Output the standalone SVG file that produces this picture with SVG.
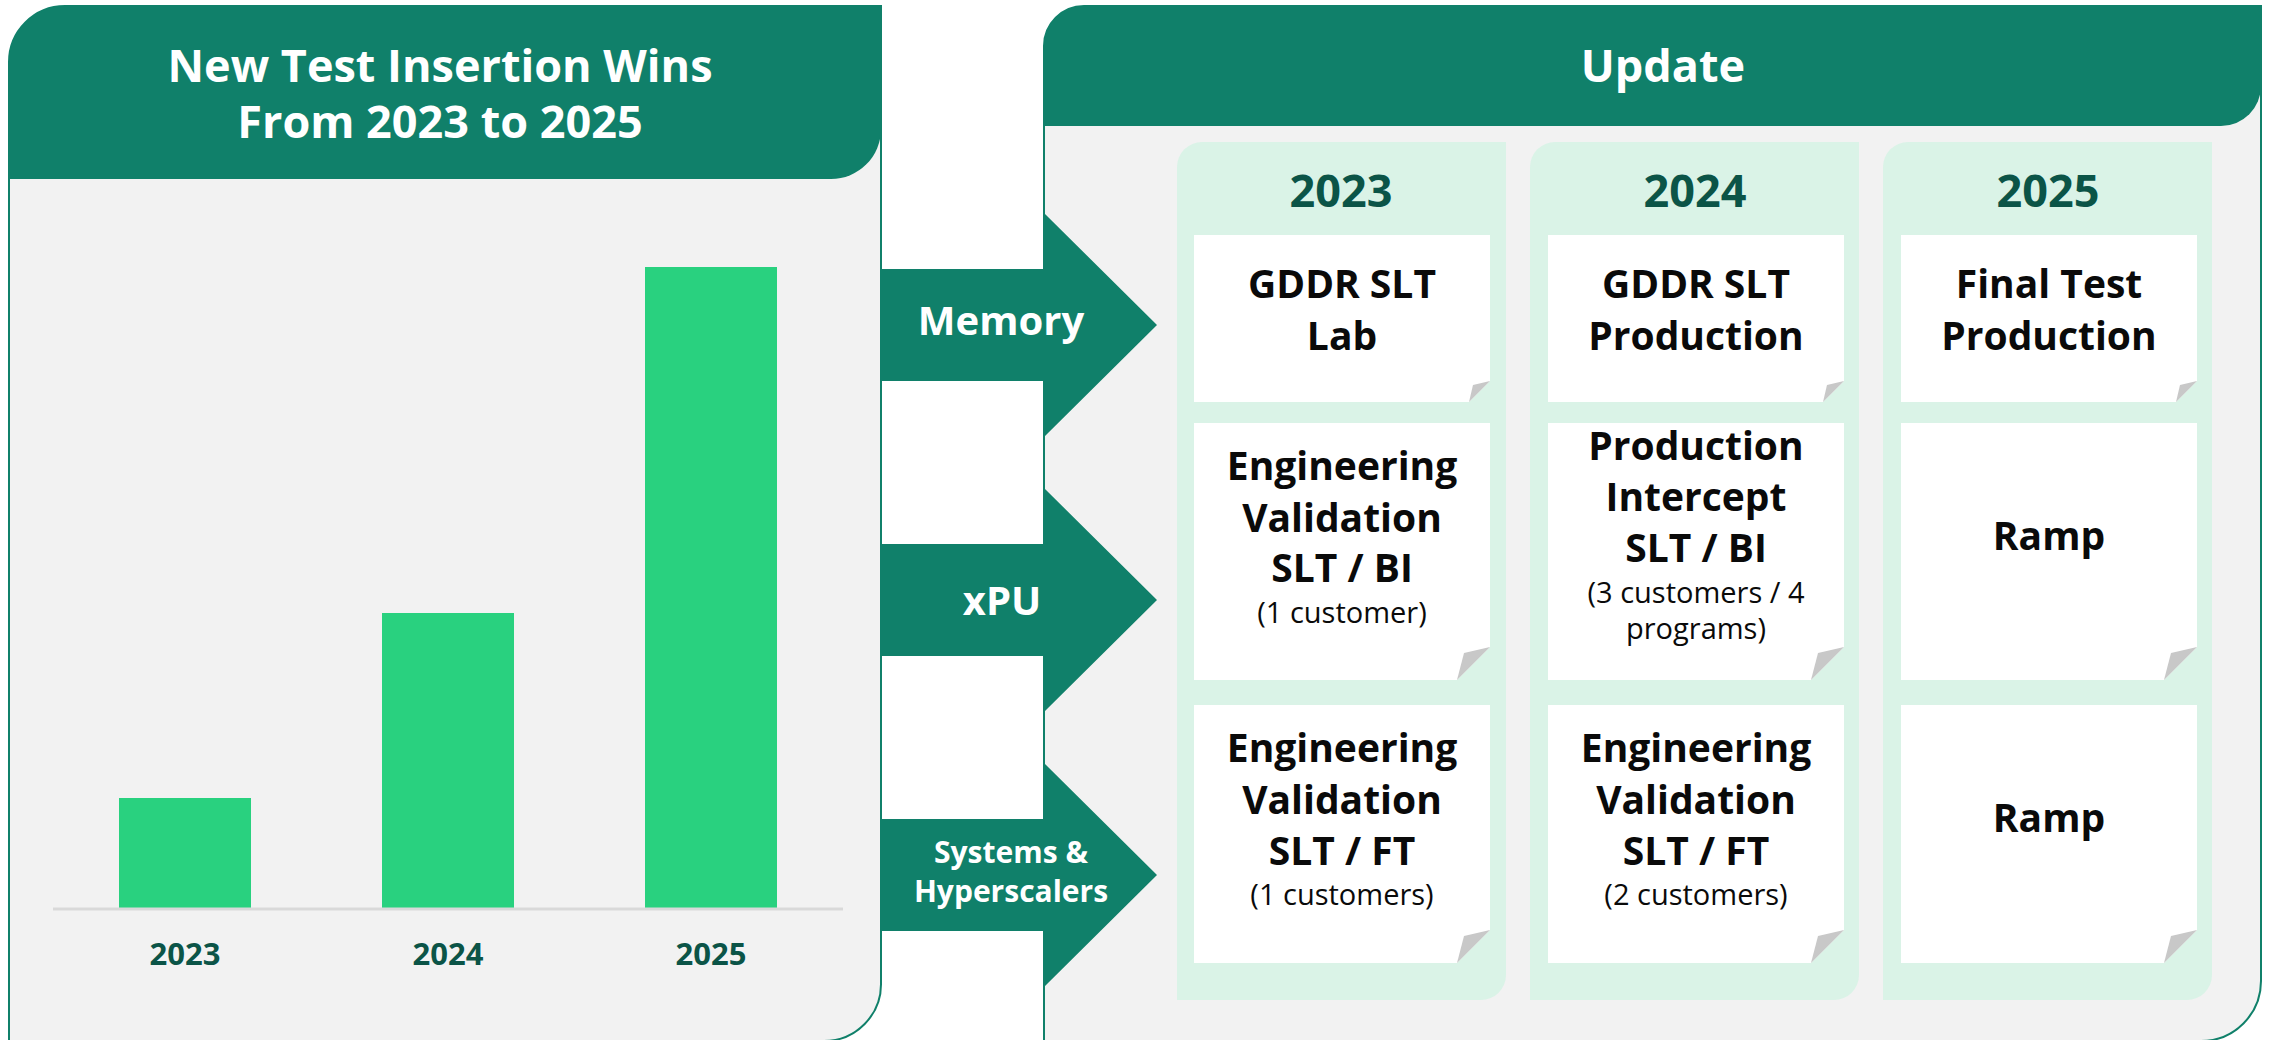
<svg xmlns="http://www.w3.org/2000/svg" width="2274" height="1040" viewBox="0 0 2274 1040">
  <defs>
    <style>
      .panel { fill: #F2F2F2; stroke: #10806A; stroke-width: 2; }
      .hdr { fill: #10806A; }
      .col { fill: #DAF3E7; }
      .card { fill: #FFFFFF; }
      .fold { fill: #C8C8C8; }
      .bar { fill: #29D17F; }
      .arrow { fill: #10806A; }
      .t { font-family: "Open Sans", "Noto Sans", "Liberation Sans", sans-serif; text-anchor: middle; }
      .title { font-weight: 700; font-size: 45px; fill: #FFFFFF; }
      .year { font-weight: 700; font-size: 45px; fill: #0B5447; }
      .axis { font-weight: 700; font-size: 31px; fill: #0B5447; }
      .alab { font-weight: 700; font-size: 40px; fill: #FFFFFF; }
      .alab-s { font-weight: 700; font-size: 30px; fill: #FFFFFF; }
      .ct { font-weight: 700; font-size: 39px; fill: #0A0A0A; }
      .cs { font-weight: 400; font-size: 29px; fill: #0A0A0A; }
    </style>
  </defs>

  <rect x="0" y="0" width="2274" height="1040" fill="#FFFFFF"/>

  <!-- Left panel: new test insertion wins chart -->
  <g id="wins-panel">
    <path class="panel" d="M9,1041 V62 A56,56 0 0 1 65,6 H881 V983 A57,57 0 0 1 824,1041 Z"/>
    <path class="hdr" d="M9,179 V62 A56,56 0 0 1 65,6 H881 V129 A50,50 0 0 1 831,179 Z"/>
    <text class="t title" x="440" y="82">New Test Insertion Wins</text>
    <text class="t title" x="440" y="138">From 2023 to 2025</text>
  </g>

  <g id="wins-chart">
    <rect class="bar" x="119" y="798" width="132" height="110"/>
    <rect class="bar" x="382" y="613" width="132" height="295"/>
    <rect class="bar" x="645" y="267" width="132" height="641"/>
    <line x1="53" y1="909" x2="843" y2="909" stroke="#D9D9D9" stroke-width="3"/>
    <text class="t axis" x="185" y="965">2023</text>
    <text class="t axis" x="448" y="965">2024</text>
    <text class="t axis" x="711" y="965">2025</text>
  </g>

  <!-- Right panel: update -->
  <g id="update-panel">
    <path class="panel" d="M1044,1041 V46 A40,40 0 0 1 1084,6 H2261 V981 A60,60 0 0 1 2201,1041 Z"/>
    <path class="hdr" d="M1044,126 V46 A40,40 0 0 1 1084,6 H2261 V86 A40,40 0 0 1 2221,126 Z"/>
    <text class="t title" x="1663" y="82">Update</text>
  </g>

  <!-- Segment arrows -->
  <g id="connectors">
    <g id="arrow-memory">
      <polygon class="arrow" points="881,269 1045,269 1045,214 1157,325 1045,436 1045,381 881,381"/>
      <text class="t alab" x="1001" y="335">Memory</text>
    </g>
    <g id="arrow-xpu">
      <polygon class="arrow" points="881,544 1045,544 1045,489 1157,600 1045,711 1045,656 881,656"/>
      <text class="t alab" x="1002" y="615">xPU</text>
    </g>
    <g id="arrow-systems">
      <polygon class="arrow" points="881,819 1045,819 1045,764 1157,875 1045,986 1045,931 881,931"/>
      <text class="t alab-s" x="1011" y="863">Systems &amp;</text>
      <text class="t alab-s" x="1011" y="902">Hyperscalers</text>
    </g>
  </g>

  <!-- Year columns -->
  <g id="col-2023">
    <path class="col" d="M1177,1000 V167 A25,25 0 0 1 1202,142 H1506 V975 A25,25 0 0 1 1481,1000 Z"/>
    <text class="t year" x="1341" y="207">2023</text>
  </g>
  <g id="col-2024">
    <path class="col" d="M1530,1000 V167 A25,25 0 0 1 1555,142 H1859 V975 A25,25 0 0 1 1834,1000 Z"/>
    <text class="t year" x="1695" y="207">2024</text>
  </g>
  <g id="col-2025">
    <path class="col" d="M1883,1000 V167 A25,25 0 0 1 1908,142 H2212 V975 A25,25 0 0 1 2187,1000 Z"/>
    <text class="t year" x="2048" y="207">2025</text>
  </g>

  <!-- Cards: 2023 -->
  <g id="card-2023-memory">
    <polygon class="card" points="1194,235 1490,235 1490,381 1469,402 1194,402"/>
    <polygon class="fold" points="1490,381 1469,402 1473,385"/>
    <text class="t ct" x="1342" y="298">GDDR SLT</text>
    <text class="t ct" x="1342" y="350">Lab</text>
  </g>
  <g id="card-2023-xpu">
    <polygon class="card" points="1194,423 1490,423 1490,647 1457,680 1194,680"/>
    <polygon class="fold" points="1490,647 1457,680 1464,653"/>
    <text class="t ct" x="1342" y="480">Engineering</text>
    <text class="t ct" x="1342" y="532">Validation</text>
    <text class="t ct" x="1342" y="582">SLT / BI</text>
    <text class="t cs" x="1342" y="623">(1 customer)</text>
  </g>
  <g id="card-2023-systems">
    <polygon class="card" points="1194,705 1490,705 1490,930 1457,963 1194,963"/>
    <polygon class="fold" points="1490,930 1457,963 1464,936"/>
    <text class="t ct" x="1342" y="762">Engineering</text>
    <text class="t ct" x="1342" y="814">Validation</text>
    <text class="t ct" x="1342" y="865">SLT / FT</text>
    <text class="t cs" x="1342" y="905">(1 customers)</text>
  </g>

  <!-- Cards: 2024 -->
  <g id="card-2024-memory">
    <polygon class="card" points="1548,235 1844,235 1844,381 1823,402 1548,402"/>
    <polygon class="fold" points="1844,381 1823,402 1827,385"/>
    <text class="t ct" x="1696" y="298">GDDR SLT</text>
    <text class="t ct" x="1696" y="350">Production</text>
  </g>
  <g id="card-2024-xpu">
    <polygon class="card" points="1548,423 1844,423 1844,647 1811,680 1548,680"/>
    <polygon class="fold" points="1844,647 1811,680 1818,653"/>
    <text class="t ct" x="1696" y="460">Production</text>
    <text class="t ct" x="1696" y="511">Intercept</text>
    <text class="t ct" x="1696" y="562">SLT / BI</text>
    <text class="t cs" x="1696" y="603">(3 customers / 4</text>
    <text class="t cs" x="1696" y="639">programs)</text>
  </g>
  <g id="card-2024-systems">
    <polygon class="card" points="1548,705 1844,705 1844,930 1811,963 1548,963"/>
    <polygon class="fold" points="1844,930 1811,963 1818,936"/>
    <text class="t ct" x="1696" y="762">Engineering</text>
    <text class="t ct" x="1696" y="814">Validation</text>
    <text class="t ct" x="1696" y="865">SLT / FT</text>
    <text class="t cs" x="1696" y="905">(2 customers)</text>
  </g>

  <!-- Cards: 2025 -->
  <g id="card-2025-memory">
    <polygon class="card" points="1901,235 2197,235 2197,381 2176,402 1901,402"/>
    <polygon class="fold" points="2197,381 2176,402 2180,385"/>
    <text class="t ct" x="2049" y="298">Final Test</text>
    <text class="t ct" x="2049" y="350">Production</text>
  </g>
  <g id="card-2025-xpu">
    <polygon class="card" points="1901,423 2197,423 2197,647 2164,680 1901,680"/>
    <polygon class="fold" points="2197,647 2164,680 2171,653"/>
    <text class="t ct" x="2049" y="550">Ramp</text>
  </g>
  <g id="card-2025-systems">
    <polygon class="card" points="1901,705 2197,705 2197,930 2164,963 1901,963"/>
    <polygon class="fold" points="2197,930 2164,963 2171,936"/>
    <text class="t ct" x="2049" y="832">Ramp</text>
  </g>
</svg>
